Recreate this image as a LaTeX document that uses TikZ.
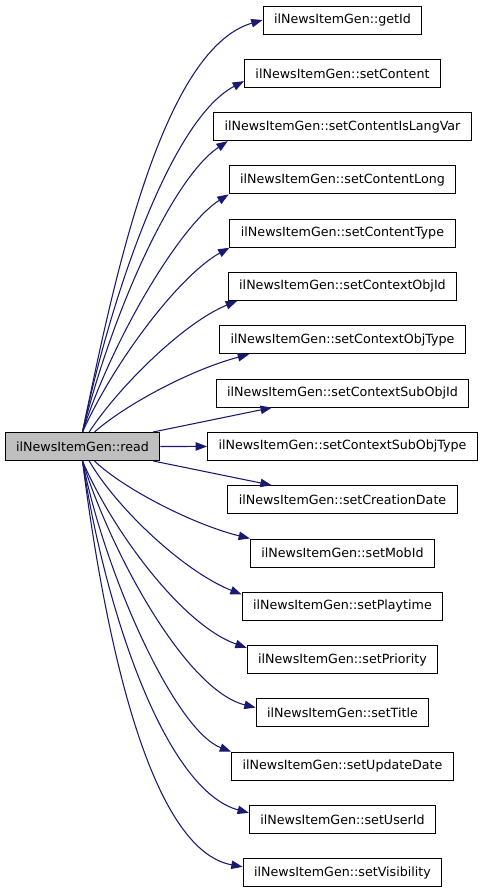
\documentclass[tikz,border=0pt]{standalone}
\usepackage{fontspec}
\setmainfont{DejaVu Sans}
\usetikzlibrary{arrows.meta}
\definecolor{edgeblue}{HTML}{191970}
\definecolor{readgray}{HTML}{BFBFBF}
\tikzset{fn/.style={draw=black,line width=0.75pt,fill=white,minimum height=21pt,
    inner xsep=8.25pt,inner ysep=0pt,font=\fontsize{9.5}{11}\selectfont},
  call/.style={draw=edgeblue,line width=0.8pt,-{Triangle[length=8.5pt,width=6.3pt]}}}

\begin{document}
\begin{tikzpicture}[x=0.75pt,y=-0.75pt]
    \useasboundingbox (0,0) rectangle (483,893);
    \node[fn,fill=readgray] (read) at (82.5,446.5) {ilNewsItemGen::read};
    \foreach \nm [count=\i from 0] in {getId,setContent,setContentIsLangVar,setContentLong,
        setContentType,setContextObjId,setContextObjType,setContextSubObjId,
        setContextSubObjType,setCreationDate,setMobId,setPlaytime,setPriority,
        setTitle,setUpdateDate,setUserId,setVisibility}
      \node[fn] (\nm) at (342.5,{20+53.3*\i}) {ilNewsItemGen::\nm};
    % calls above
    \draw[call] (read.north) .. controls (112,290) and (160,50) .. (getId.west);
    \draw[call] (read.north) .. controls (110,300) and (170,120) .. ([yshift=5pt]setContent.south west);
    \draw[call] (read.north) .. controls (110,320) and (170,180) .. ([xshift=11pt]setContentIsLangVar.south west);
    \draw[call] (read.north) .. controls (112,340) and (180,225) .. (setContentLong.south west);
    \draw[call] (read.north) .. controls (115,360) and (180,275) .. (setContentType.south west);
    \draw[call] ([xshift=5pt]read.north) .. controls (120,385) and (185,322) .. ([xshift=7pt]setContextObjId.south west);
    \draw[call] ([xshift=9pt]read.north) .. controls (125,405) and (190,370) .. ([xshift=22.5pt]setContextObjType.south west);
    \draw[call] (read) -- (setContextSubObjId);
    \draw[call] (read) -- (setContextSubObjType);
    \draw[call] (read) -- (setCreationDate);
    % calls below
    \draw[call] ([xshift=9pt]read.south) .. controls (125,490) and (195,525) .. (setMobId.north west);
    \draw[call] ([xshift=5pt]read.south) .. controls (118,510) and (185,572) .. ([yshift=-2pt]setPlaytime.north west);
    \draw[call] (read.south) .. controls (112,530) and (182,625) .. ([yshift=-2pt]setPriority.north west);
    \draw[call] (read.south) .. controls (110,550) and (185,690) .. ([yshift=4pt]setTitle.west);
    \draw[call] (read.south) .. controls (105,575) and (175,730) .. (setUpdateDate.north west);
    \draw[call] (read.south) .. controls (105,610) and (165,790) .. ([yshift=5pt]setUserId.west);
    \draw[call] (read.south) .. controls (105,640) and (150,850) .. ([yshift=4.5pt]setVisibility.west);
\end{tikzpicture}
\end{document}
